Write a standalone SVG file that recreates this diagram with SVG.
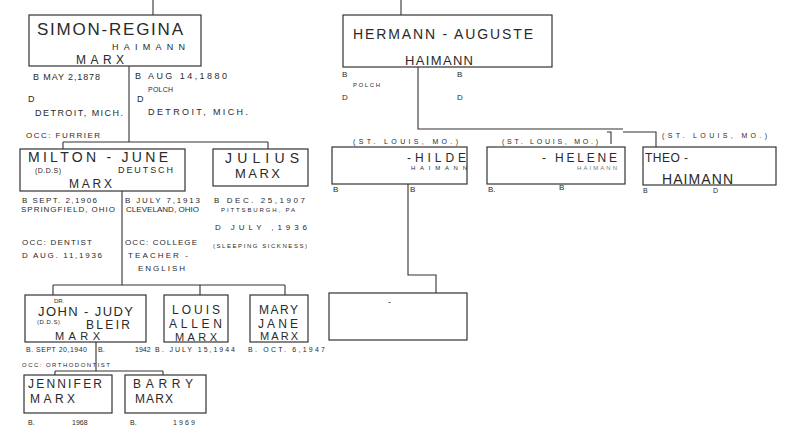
<svg xmlns="http://www.w3.org/2000/svg" width="799" height="436" viewBox="0 0 799 436">
<style>
text{font-family:"Liberation Sans","DejaVu Sans",sans-serif;fill:#2a2a2a}
.box{fill:none;stroke:#333;stroke-width:1.2}
.ln{fill:none;stroke:#333;stroke-width:1.1}
.s17{font-size:17px}.s14{font-size:14px}.s13{font-size:13px}.s12{font-size:12px}
.s11{font-size:11px}.s10{font-size:10px}.s9{font-size:9px}.s8{font-size:8px}.s7{font-size:7px}.s6{font-size:6px}
.f{fill:#777}
</style>
<rect width="799" height="436" fill="#fff"/>
<g id="connectors">
<path class="ln" d="M153 0V15"/>
<path class="ln" d="M129 66V142M63 142H268M63 142V149M268 142V149"/>
<path class="ln" d="M122 191V285M53 285H285M53 285V295M200 285V295M285 285V295"/>
<path class="ln" d="M96 342V371M55 371H163M55 371V375M163 371V375"/>
<path class="ln" d="M401 0V15"/>
<path class="ln" d="M418 67V129H623M623 132H656V147"/>
<path class="ln" d="M408 184V275H436V293"/>
</g>
<g id="simon-regina">
<rect class="box" x="29" y="15" width="172" height="51"/>
<text class="s17" x="37" y="35" textLength="146">SIMON-REGINA</text>
<text class="s9" x="112" y="50" textLength="73">HAIMANN</text>
<text class="s12" x="76" y="64" textLength="48">MARX</text>
<text class="s9" x="33" y="80" textLength="67">B MAY 2,1878</text>
<text class="s9" x="28" y="102">D</text>
<text class="s9" x="35" y="116" textLength="88">DETROIT, MICH.</text>
<text class="s9" x="135" y="79" textLength="92">B AUG 14,1880</text>
<text class="s7" x="148" y="92" textLength="25">POLCH</text>
<text class="s9" x="137" y="102">D</text>
<text class="s9" x="148" y="115" textLength="100">DETROIT, MICH.</text>
<text class="s8" x="26" y="138" textLength="74">OCC: FURRIER</text>
</g>
<g id="milton-june">
<rect class="box" x="20" y="149" width="165" height="42"/>
<text class="s14" x="28" y="162" textLength="140">MILTON - JUNE</text>
<text class="s7" x="35" y="173" textLength="26">(D.D.S)</text>
<text class="s9" x="118" y="173" textLength="55">DEUTSCH</text>
<text class="s12" x="69" y="188" textLength="43">MARX</text>
<text class="s8" x="22" y="203" textLength="75">B SEPT. 2,1906</text>
<text class="s8" x="21" y="212" textLength="94">SPRINGFIELD, OHIO</text>
<text class="s8" x="125" y="203" textLength="75">B JULY 7,1913</text>
<text class="s8" x="126" y="212" textLength="73">CLEVELAND, OHIO</text>
<text class="s8" x="22" y="245" textLength="70">OCC: DENTIST</text>
<text class="s8" x="22" y="258" textLength="80">D AUG. 11,1936</text>
<text class="s8" x="125" y="245" textLength="72">OCC: COLLEGE</text>
<text class="s8" x="128" y="258" textLength="60">TEACHER -</text>
<text class="s8" x="138" y="271" textLength="47">ENGLISH</text>
</g>
<g id="julius">
<rect class="box" x="213" y="149" width="95" height="37"/>
<text class="s14" x="225" y="163" textLength="74">JULIUS</text>
<text class="s13" x="235" y="178" textLength="45">MARX</text>
<text class="s8" x="214" y="203" textLength="91">B DEC. 25,1907</text>
<text class="s6" x="221" y="212" textLength="74">PITTSBURGH, PA</text>
<text class="s8" x="215" y="230" textLength="92">D JULY     ,1936</text>
<text class="s6" x="213" y="248" textLength="94">(SLEEPING SICKNESS)</text>
</g>
<g id="john-judy">
<rect class="box" x="25" y="295" width="121" height="47"/>
<text class="s6" x="54" y="303">DR.</text>
<text class="s13" x="38" y="316" textLength="95">JOHN - JUDY</text>
<text class="s6" x="37" y="324" textLength="23">(D.D.S)</text>
<text class="s12" x="86" y="329" textLength="44">BLEIR</text>
<text class="s11" x="55" y="340" textLength="45">MARX</text>
<text class="s7" x="26" y="352" textLength="61">B. SEPT 20,1940</text>
<text class="s7" x="98" y="352">B.</text>
<text class="s7" x="135" y="352">1942</text>
<text class="s6" x="22" y="367" textLength="88">OCC: ORTHODONTIST</text>
</g>
<g id="louis-allen">
<rect class="box" x="164" y="295" width="64" height="47"/>
<text class="s12" x="172" y="314" textLength="48">LOUIS</text>
<text class="s12" x="169" y="328" textLength="53">ALLEN</text>
<text class="s11" x="175" y="341" textLength="42">MARX</text>
<text class="s7" x="155" y="352" textLength="80">B. JULY 15,1944</text>
</g>
<g id="mary-jane">
<rect class="box" x="250" y="295" width="58" height="47"/>
<text class="s12" x="259" y="314" textLength="39">MARY</text>
<text class="s12" x="258" y="328" textLength="40">JANE</text>
<text class="s11" x="260" y="340" textLength="38">MARX</text>
<text class="s7" x="248" y="352" textLength="77">B. OCT. 6,1947</text>
</g>
<g id="jennifer">
<rect class="box" x="24" y="375" width="88" height="38"/>
<text class="s12" x="28" y="388" textLength="74">JENNIFER</text>
<text class="s12" x="30" y="403" textLength="45">MARX</text>
<text class="s7" x="28" y="425">B.</text>
<text class="s7" x="72" y="425">1968</text>
</g>
<g id="barry">
<rect class="box" x="125" y="375" width="81" height="38"/>
<text class="s12" x="133" y="388" textLength="60">BARRY</text>
<text class="s12" x="135" y="403" textLength="38">MARX</text>
<text class="s7" x="130" y="425">B.</text>
<text class="s7" x="173" y="425" textLength="22">1969</text>
</g>
<g id="hermann-auguste">
<rect class="box" x="343" y="15" width="209" height="52"/>
<text class="s14" x="353" y="39" textLength="180">HERMANN - AUGUSTE</text>
<text class="s13" x="405" y="65" textLength="68">HAIMANN</text>
<text class="s8" x="342" y="77">B</text>
<text class="s6" x="353" y="87" textLength="27">POLCH</text>
<text class="s8" x="342" y="100">D</text>
<text class="s8" x="457" y="77">B</text>
<text class="s8" x="457" y="100">D</text>
</g>
<g id="hilde">
<rect class="box" x="332" y="147" width="135" height="37"/>
<text class="s7" x="353" y="144" textLength="105">(ST. LOUIS, MO.)</text>
<text class="s12" x="407" y="162" textLength="59">-HILDE</text>
<text class="s6" x="411" y="170" textLength="56">HAIMANN</text>
<text class="s8" x="333" y="192">B</text>
<text class="s8" x="410" y="192">B</text>
</g>
<g id="helene">
<rect class="box" x="487" y="147" width="138" height="37"/>
<text class="s7" x="502" y="144" textLength="96">(ST. LOUIS, MO.)</text>
<path class="ln" d="M607 132H611V144"/>
<text class="s12" x="542" y="162" textLength="75">- HELENE</text>
<text class="s6 f" x="577" y="170" textLength="40">HAIMANN</text>
<text class="s8" x="488" y="192">B.</text>
<text class="s8" x="559" y="190">B</text>
</g>
<g id="theo">
<rect class="box" x="643" y="147" width="133" height="38"/>
<text class="s7" x="662" y="138" textLength="105">(ST. LOUIS, MO.)</text>
<text class="s12" x="645" y="162" textLength="43">THEO -</text>
<text class="s14" x="662" y="184" textLength="71">HAIMANN</text>
<text class="s7" x="643" y="193">B</text>
<text class="s7" x="713" y="193">D</text>
</g>
<g id="unnamed">
<rect class="box" x="329" y="293" width="138" height="47"/>
<text class="s9" x="388" y="305">-</text>
</g>
</svg>
